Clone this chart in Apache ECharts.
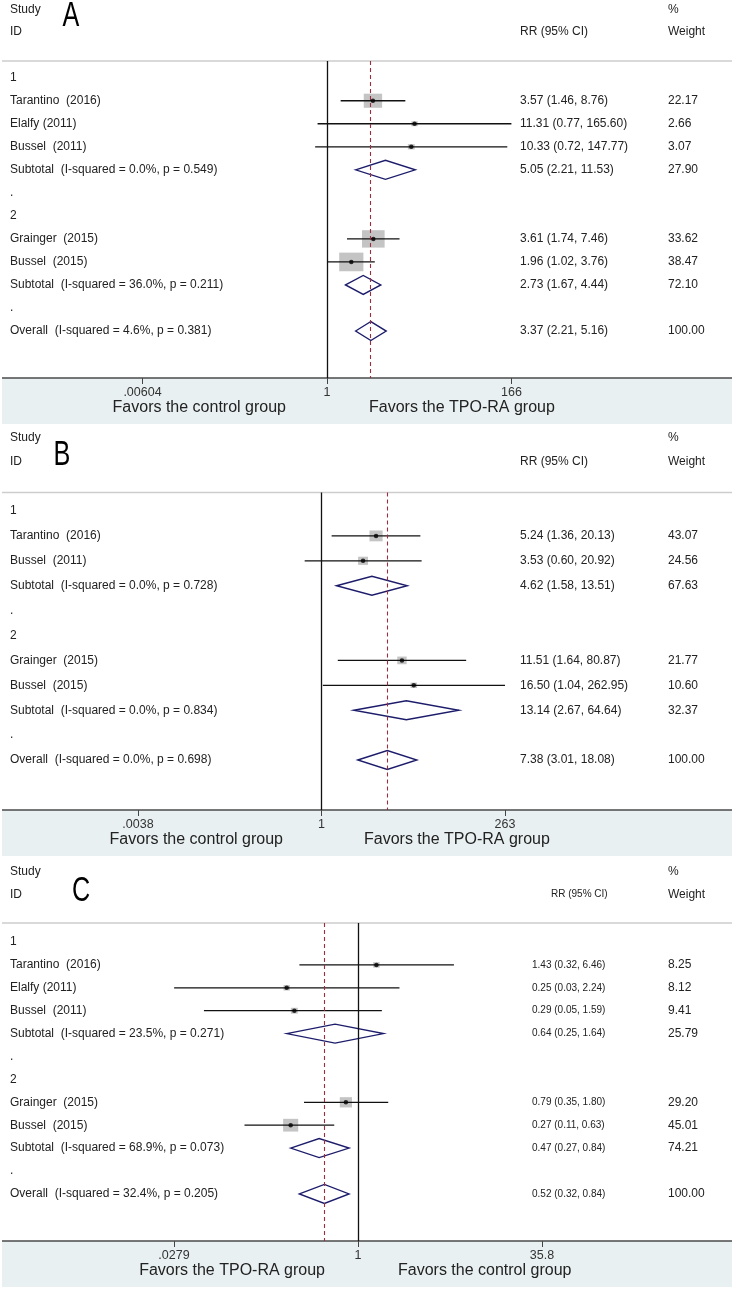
<!DOCTYPE html>
<html><head><meta charset="utf-8">
<script src="https://cdn.jsdelivr.net/npm/echarts@6/dist/echarts.min.js"></script>
<style>html,body{margin:0;padding:0;background:#fff}#c{width:732px;height:1290px}</style>
</head><body><div id="c"></div>
<script>
// ===== Panel A =====
const A_rows = ["1","Tarantino  (2016)","Elalfy (2011)","Bussel  (2011)","Subtotal  (I-squared = 0.0%, p = 0.549)",".","2","Grainger  (2015)","Bussel  (2015)","Subtotal  (I-squared = 36.0%, p = 0.211)",".","Overall  (I-squared = 4.6%, p = 0.381)"];
const A_kind = ["g","s","s","s","d","b","g","s","s","d","b","o"];
const A_rr = [null,3.57,11.31,10.33,5.05,null,null,3.61,1.96,2.73,null,3.37];
const A_lo = [null,1.46,0.77,0.72,2.21,null,null,1.74,1.02,1.67,null,2.21];
const A_hi = [null,8.76,165.60,147.77,11.53,null,null,7.46,3.76,4.44,null,5.16];
const A_weight = [null,22.17,2.66,3.07,27.90,null,null,33.62,38.47,72.10,null,100.00];
const A_ticks = [".00604","1","166"];
const A_tickMax = 166;
const A_favors = ["Favors the control group","Favors the TPO-RA group"];

// ===== Panel B =====
const B_rows = ["1","Tarantino  (2016)","Bussel  (2011)","Subtotal  (I-squared = 0.0%, p = 0.728)",".","2","Grainger  (2015)","Bussel  (2015)","Subtotal  (I-squared = 0.0%, p = 0.834)",".","Overall  (I-squared = 0.0%, p = 0.698)"];
const B_kind = ["g","s","s","d","b","g","s","s","d","b","o"];
const B_rr = [null,5.24,3.53,4.62,null,null,11.51,16.50,13.14,null,7.38];
const B_lo = [null,1.36,0.60,1.58,null,null,1.64,1.04,2.67,null,3.01];
const B_hi = [null,20.13,20.92,13.51,null,null,80.87,262.95,64.64,null,18.08];
const B_weight = [null,43.07,24.56,67.63,null,null,21.77,10.60,32.37,null,100.00];
const B_ticks = [".0038","1","263"];
const B_tickMax = 263;
const B_favors = ["Favors the control group","Favors the TPO-RA group"];

// ===== Panel C =====
const C_rows = ["1","Tarantino  (2016)","Elalfy (2011)","Bussel  (2011)","Subtotal  (I-squared = 23.5%, p = 0.271)",".","2","Grainger  (2015)","Bussel  (2015)","Subtotal  (I-squared = 68.9%, p = 0.073)",".","Overall  (I-squared = 32.4%, p = 0.205)"];
const C_kind = ["g","s","s","s","d","b","g","s","s","d","b","o"];
const C_rr = [null,1.43,0.25,0.29,0.64,null,null,0.79,0.27,0.47,null,0.52];
const C_lo = [null,0.32,0.028,0.05,0.25,null,null,0.35,0.11,0.27,null,0.32];
const C_hi = [null,6.46,2.24,1.59,1.64,null,null,1.80,0.63,0.84,null,0.84];
const C_weight = [null,8.25,8.12,9.41,25.79,null,null,29.20,45.01,74.21,null,100.00];
const C_ticks = [".0279","1","35.8"];
const C_tickMax = 35.8;
const C_favors = ["Favors the TPO-RA group","Favors the control group"];

const HEAD = ["Study","ID","RR (95% CI)","%","Weight"];
const LETTERS = ["A","B","C"];

// ===== layout (pixels) =====
const PANELS = [
  {rows:A_rows,kind:A_kind,rr:A_rr,lo:A_lo,hi:A_hi,w:A_weight,ticks:A_ticks,tmax:A_tickMax,fav:A_favors,
   top:61,axisY:378,row0:77.7,step:23.03,cx:327,half:184.5,headY:[10,32],letter:[71,16],
   ciX:520,ciFont:12,rrX:520,rrFont:12,favL:286,favR:369,favY:408,box:[3.9,3.0],shadeH:46},
  {rows:B_rows,kind:B_kind,rr:B_rr,lo:B_lo,hi:B_hi,w:B_weight,ticks:B_ticks,tmax:B_tickMax,fav:B_favors,
   top:492.5,axisY:810,row0:511,step:24.9,cx:321.5,half:183.5,headY:[437.5,461.5],letter:[62,455],
   ciX:520,ciFont:12,rrX:520,rrFont:12,favL:283,favR:364,favY:840,box:[2.0,1.65],shadeH:46},
  {rows:C_rows,kind:C_kind,rr:C_rr,lo:C_lo,hi:C_hi,w:C_weight,ticks:C_ticks,tmax:C_tickMax,fav:C_favors,
   top:923,axisY:1241,row0:942,step:22.9,cx:358,half:184,headY:[871.5,894.5],letter:[81,891],
   ciX:532,ciFont:10,rrX:551,rrFont:10,favL:325,favR:398,favY:1271,box:[2.25,1.9],shadeH:46}
];
const FONT = '"Liberation Sans", Arial, sans-serif';
const TXT = '#222';
const LBL_X = 10, W_X = 668;

const grids=[], xAxes=[], yAxes=[], series=[], graphic=[];

PANELS.forEach((p, gi) => {
  const L = Math.log(p.tmax);
  grids.push({left:p.cx-p.half, width:2*p.half, top:p.top, height:p.axisY-p.top});
  xAxes.push({
    type:'value', gridIndex:gi, min:-L, max:L, interval:L, position:'bottom',
    axisLine:{show:false, onZero:false}, splitLine:{show:false},
    axisTick:{show:true, length:6, lineStyle:{color:'#444', width:1}},
    axisLabel:{show:true, margin:8, color:'#333', fontSize:12.5, fontFamily:FONT,
      formatter:(v)=> v<-1e-9 ? p.ticks[0] : (v>1e-9 ? p.ticks[2] : p.ticks[1])}
  });
  yAxes.push({type:'value', gridIndex:gi, inverse:true, show:false,
    min:-(p.row0-p.top)/p.step, max:(p.axisY-p.row0)/p.step, splitLine:{show:false}});

  const idx = p.rows.map((_,i)=>i);
  const est = idx.filter(i=>p.rr[i]!=null);
  const studies = est.filter(i=>p.kind[i]==='s');
  const overall = est.find(i=>p.kind[i]==='o');

  // boxes
  series.push({
    type:'scatter', xAxisIndex:gi, yAxisIndex:gi, z:1, silent:true,
    symbol:'rect',
    symbolSize:(val)=>[p.box[0]*Math.sqrt(val[2]), p.box[1]*Math.sqrt(val[2])],
    itemStyle:{color:'#b5b5b5'},
    data: studies.map(i=>[Math.log(p.rr[i]), i, p.w[i]]),
    markLine:{silent:true, symbol:['none','none'], label:{show:false}, animation:false,
      data:[
        {xAxis:0, lineStyle:{color:'#111', width:1.3, type:'solid'}},
        {xAxis:Math.log(p.rr[overall]), lineStyle:{color:'#9b2d3c', width:1.1, type:[4,3]}}
      ]}
  });
  // CI lines and diamonds
  series.push({
    type:'custom', xAxisIndex:gi, yAxisIndex:gi, z:3, silent:true, clip:false,
    data: est.map(i=>[Math.log(p.rr[i]), i, Math.log(p.lo[i]), Math.log(p.hi[i])]),
    renderItem:(params, api)=>{
      const row = api.value(1);
      const a = api.coord([api.value(2), row]);
      const b = api.coord([api.value(3), row]);
      const m = api.coord([api.value(0), row]);
      if (p.kind[row]==='s') {
        return {type:'line', shape:{x1:a[0],y1:a[1],x2:b[0],y2:b[1]}, style:{stroke:'#111', lineWidth:1.3}};
      }
      const h = 9.5;
      return {type:'polygon', shape:{points:[[a[0],a[1]],[m[0],m[1]-h],[b[0],b[1]],[m[0],m[1]+h]]},
        style:{fill:'none', stroke:'#1c1c6b', lineWidth:1.4}};
    }
  });
  // point estimate dots
  series.push({
    type:'scatter', xAxisIndex:gi, yAxisIndex:gi, z:4, silent:true,
    symbol:'circle', symbolSize:4.5, itemStyle:{color:'#000'},
    data: studies.map(i=>[Math.log(p.rr[i]), i])
  });
  // text columns
  series.push({
    type:'custom', xAxisIndex:gi, yAxisIndex:gi, z:5, silent:true, clip:false,
    data: idx.map(i=>[0,i]),
    renderItem:(params, api)=>{
      const i = api.value(1);
      const y = api.coord([0,i])[1];
      const ch = [{type:'text', x:LBL_X, y:y, style:{text:p.rows[i], fill:TXT, font:'12px '+FONT,
        textAlign:'left', textVerticalAlign:'middle', align:'left', verticalAlign:'middle'}}];
      if (p.rr[i]!=null) {
        const s = p.rr[i].toFixed(2)+' ('+p.lo[i].toFixed(2)+', '+p.hi[i].toFixed(2)+')';
        ch.push({type:'text', x:p.ciX, y:y, style:{text:s, fill:TXT, font:p.ciFont+'px '+FONT,
          textAlign:'left', textVerticalAlign:'middle', align:'left', verticalAlign:'middle'}});
        ch.push({type:'text', x:W_X, y:y, style:{text:p.w[i].toFixed(2), fill:TXT, font:'12px '+FONT,
          textAlign:'left', textVerticalAlign:'middle', align:'left', verticalAlign:'middle'}});
      }
      return {type:'group', children:ch};
    }
  });

  // decorations
  graphic.push({type:'rect', z:-10, silent:true, shape:{x:2, y:p.axisY, width:730, height:p.shadeH}, style:{fill:'#e9f0f2'}});
  graphic.push({type:'line', z:1, silent:true, shape:{x1:2,y1:p.top,x2:732,y2:p.top}, style:{stroke:'#cdcdcd', lineWidth:1.5}});
  graphic.push({type:'line', z:1, silent:true, shape:{x1:2,y1:p.axisY,x2:732,y2:p.axisY}, style:{stroke:'#4a4a4a', lineWidth:1.5}});
  const t = (x,y,text,font,align)=>({type:'text', silent:true, z:5, x:x, y:y,
    style:{text:text, fill:TXT, font:font, textAlign:align||'left', textVerticalAlign:'middle', align:align||'left', verticalAlign:'middle'}});
  graphic.push(t(LBL_X, p.headY[0], HEAD[0], '12px '+FONT));
  graphic.push(t(LBL_X, p.headY[1], HEAD[1], '12px '+FONT));
  graphic.push(t(p.rrX, p.headY[1], HEAD[2], p.rrFont+'px '+FONT));
  graphic.push(t(W_X, p.headY[0], HEAD[3], '12px '+FONT));
  graphic.push(t(W_X, p.headY[1], HEAD[4], '12px '+FONT));
  const letter = t(p.letter[0], p.letter[1], LETTERS[gi], '35px '+FONT, 'center');
  letter.scaleX = 0.72;
  letter.style.fill = '#000';
  graphic.push(letter);
  graphic.push(t(p.favL, p.favY, p.fav[0], '16px '+FONT, 'right'));
  graphic.push(t(p.favR, p.favY, p.fav[1], '16px '+FONT, 'left'));
});

const chart = echarts.init(document.getElementById('c'), null, {renderer:'canvas'});
chart.setOption({
  animation:false,
  backgroundColor:'#fff',
  grid:grids, xAxis:xAxes, yAxis:yAxes, series:series, graphic:graphic
});
</script></body></html>
